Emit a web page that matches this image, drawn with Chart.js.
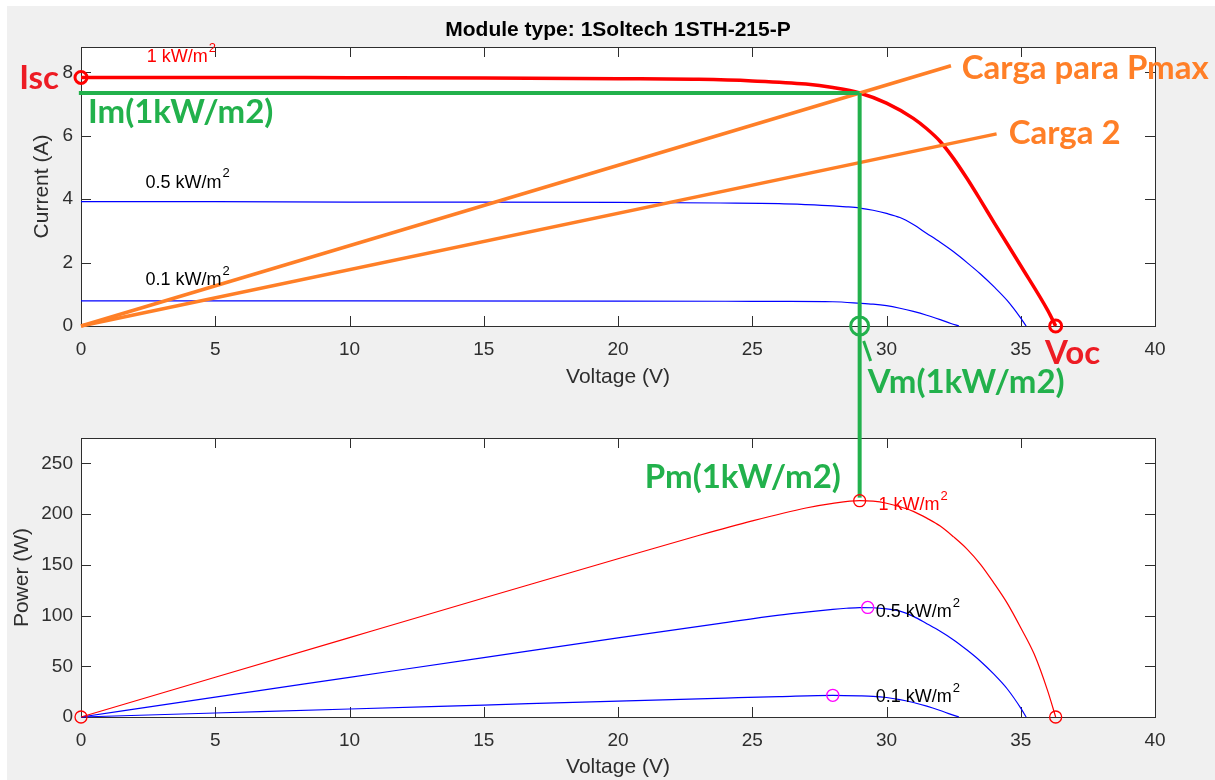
<!DOCTYPE html>
<html>
<head>
<meta charset="utf-8">
<title>Module type: 1Soltech 1STH-215-P</title>
<script src="https://cdn.jsdelivr.net/npm/chart.js@4.4.1/dist/chart.umd.min.js"></script>
<style>
  html, body { margin: 0; padding: 0; background: #fff; }
  #fig { position: absolute; left: 7px; top: 6px; width: 1208px; height: 774px; background: #f0f0f0; }
  canvas { position: absolute; left: 0; }
  #ivChart { top: 0; }
  #pvChart { top: 400px; }
</style>
</head>
<body>
<div id="fig"></div>
<canvas id="ivChart" width="1215" height="400"></canvas>
<canvas id="pvChart" width="1215" height="380"></canvas>
<script>
// tick labels
const voltTicks = [0, 5, 10, 15, 20, 25, 30, 35, 40];
const currentTicks = [0, 2, 4, 6, 8];
const powerTicks = [0, 50, 100, 150, 200, 250];

// I-V curves (V, A)
const ivVolt1 = [0, 5, 10, 15, 20, 23, 25, 27, 28, 29, 30, 31, 31.5, 32, 32.5, 33, 33.5, 34, 35, 36, 36.3];
const ivCurr1 = [7.84, 7.84, 7.83, 7.82, 7.8, 7.78, 7.73, 7.63, 7.52, 7.35, 7.03, 6.55, 6.22, 5.82, 5.28, 4.65, 3.97, 3.27, 1.9, 0.5, 0];
const ivVolt05 = [0, 5, 10, 15, 20, 23.8, 26, 27, 28, 28.5, 29, 29.5, 30, 30.5, 31, 31.5, 32, 32.5, 33, 33.5, 34, 34.5, 35, 35.2];
const ivCurr05 = [3.92, 3.92, 3.91, 3.91, 3.9, 3.88, 3.86, 3.83, 3.79, 3.76, 3.72, 3.65, 3.55, 3.42, 3.2, 2.92, 2.64, 2.34, 2.0, 1.64, 1.24, 0.8, 0.25, 0];
const ivVolt01 = [0, 10, 20, 24, 26, 28, 29, 29.5, 30, 30.5, 31, 31.5, 32, 32.4, 32.7];
const ivCurr01 = [0.79, 0.79, 0.785, 0.78, 0.775, 0.765, 0.72, 0.69, 0.64, 0.56, 0.46, 0.34, 0.2, 0.08, 0];

// P-V curves (V, W)
const pvVolt1 = [0, 5, 10, 15, 20, 23, 25, 27, 28, 29, 29.5, 30, 30.5, 31, 31.5, 32, 32.5, 33, 33.5, 34, 34.5, 35, 35.5, 36, 36.3];
const pvPow1 = [0, 39.2, 78.3, 117.3, 156, 178.9, 193.3, 206, 210.6, 213.2, 212.7, 210.7, 207.2, 202.7, 196, 188.2, 177.5, 165.5, 150.5, 132, 112, 88, 62, 26, 0];
const pvVolt05 = [0, 5, 10, 15, 20, 23.8, 26, 27, 28, 28.5, 29, 29.5, 30, 30.5, 31, 31.5, 32, 32.5, 33, 33.5, 34, 34.5, 35, 35.2];
const pvPow05 = [0, 19.6, 39.1, 58.6, 78, 92.3, 100.4, 103.4, 106.1, 107.2, 107.9, 107.7, 106.5, 104.3, 99.2, 92, 84.5, 76, 66, 55, 42.2, 27.6, 8.75, 0];
const pvVolt01 = [0, 5, 10, 15, 20, 24, 26, 28, 29, 29.5, 30, 30.5, 31, 31.5, 32, 32.4, 32.7];
const pvPow01 = [0, 3.95, 7.9, 11.8, 15.7, 18.7, 20.15, 21.4, 20.9, 20.4, 19.2, 17.1, 14.3, 10.7, 6.4, 2.6, 0];

// key points of the 1 kW/m2 curve
const isc = 7.84, voc = 36.3, vmp = 29, imp = 7.35, pmp = 213.2;
// resistive loads drawn from the origin
const loadPmaxV = [0, 32.4], loadPmaxI = [0, 8.21];
const load2V = [0, 34.1], load2I = [0, 6.06];
// maximum power markers of 0.5 and 0.1 kW/m2
const mpMarkV = [29.3, 28.0], mpMarkP = [108, 21.4];

const FONT = "'Liberation Sans', Arial, sans-serif";
const NOTE_FONT = "bold 33px Lato, sans-serif";
const INK = '#2e2e2e';
const RED = '#ed1c24', GREEN = '#22b14c', ORANGE = '#ff7f27';

const xy = (xs, ys) => xs.map((x, i) => ({x: x, y: ys[i]}));

// MATLAB-like box with inward ticks + text overlays
function makeAxesPlugin(title, texts, extra) {
  return {
    id: 'matlabAxes',
    beforeDraw(chart) {
      const {ctx, chartArea: a} = chart;
      ctx.save();
      ctx.fillStyle = '#fff';
      ctx.fillRect(a.left, a.top, a.right - a.left, a.bottom - a.top);
      ctx.restore();
    },
    beforeDatasetsDraw(chart) {
      const {ctx, chartArea: a, scales: {x, y}} = chart;
      ctx.save();
      ctx.strokeStyle = INK;
      ctx.lineWidth = 1;
      ctx.beginPath();
      x.ticks.forEach(t => {
        const px = Math.round(x.getPixelForValue(t.value)) + 0.5;
        ctx.moveTo(px, a.bottom); ctx.lineTo(px, a.bottom - 10);
        ctx.moveTo(px, a.top); ctx.lineTo(px, a.top + 10);
      });
      y.ticks.forEach(t => {
        const py = Math.round(y.getPixelForValue(t.value)) + 0.5;
        ctx.moveTo(a.left, py); ctx.lineTo(a.left + 10, py);
        ctx.moveTo(a.right, py); ctx.lineTo(a.right - 10, py);
      });
      ctx.stroke();
      ctx.strokeRect(Math.round(a.left) + 0.5, Math.round(a.top) + 0.5,
                     Math.round(a.right - a.left), Math.round(a.bottom - a.top));
      ctx.restore();
    },
    afterDatasetsDraw(chart) {
      const {ctx, chartArea: a, scales: {x, y}} = chart;
      ctx.save();
      if (title) {
        ctx.font = 'bold 21px ' + FONT;
        ctx.fillStyle = '#000';
        ctx.textAlign = 'center';
        ctx.textBaseline = 'middle';
        ctx.fillText(title, (a.left + a.right) / 2, 30);
      }
      ctx.textAlign = 'left';
      ctx.textBaseline = 'middle';
      texts.forEach(t => {
        const px = x.getPixelForValue(t.x), py = y.getPixelForValue(t.y);
        ctx.fillStyle = t.color;
        if (t.bold) {
          ctx.font = NOTE_FONT;
          ctx.fillText(t.text, px, py);
        } else {
          ctx.font = '18px ' + FONT;
          ctx.fillText(t.text, px, py);
          const w = ctx.measureText(t.text).width;
          ctx.font = '13px ' + FONT;
          ctx.fillText('2', px + w + 1, py - 9);
        }
      });
      if (extra) extra(ctx, x, y);
      ctx.restore();
    }
  };
}

function xScale(height, padTitle) {
  return {
    type: 'linear', min: 0, max: 40,
    afterBuildTicks: s => { s.ticks = voltTicks.map(v => ({value: v})); },
    afterFit: s => { s.height = height; },
    grid: {display: false, drawTicks: false},
    border: {display: false},
    ticks: {padding: 12, color: INK, font: {family: FONT, size: 19}, maxRotation: 0, autoSkip: false},
    title: {display: true, text: 'Voltage (V)', color: INK, font: {family: FONT, size: 21},
            padding: {top: 0, bottom: padTitle}}
  };
}

function yScale(max, ticks, label, padTitle) {
  return {
    type: 'linear', min: 0, max: max,
    afterBuildTicks: s => { s.ticks = ticks.map(v => ({value: v})); },
    afterFit: s => { s.width = 81; },
    grid: {display: false, drawTicks: false},
    border: {display: false},
    ticks: {padding: 8, color: INK, font: {family: FONT, size: 19}, autoSkip: false},
    title: {display: true, text: label, color: INK, font: {family: FONT, size: 21},
            padding: {top: padTitle, bottom: 0}}
  };
}

const baseOptions = (pad, xs, ys) => ({
  responsive: false,
  animation: false,
  layout: {padding: pad},
  plugins: {legend: {display: false}, tooltip: {enabled: false}},
  scales: {x: xs, y: ys}
});

const line = (data, color, width, order) => ({
  data: data, showLine: true, borderColor: color, borderWidth: width,
  pointRadius: 0, cubicInterpolationMode: 'monotone', order: order, clip: false
});
const marker = (data, color, radius, width, order) => ({
  data: data, showLine: false, pointRadius: radius, pointBorderColor: color,
  pointBackgroundColor: 'rgba(0,0,0,0)', pointBorderWidth: width, order: order, clip: false
});

// ---------- Current vs voltage ----------
const ivTexts = [
  {text: '1 kW/m', x: 2.45, y: 8.48, color: '#ff0000'},
  {text: '0.5 kW/m', x: 2.4, y: 4.52, color: '#000'},
  {text: '0.1 kW/m', x: 2.4, y: 1.44, color: '#000'},
  {text: 'Isc', x: -2.3, y: 7.82, color: RED, bold: true},
  {text: 'Im(1kW/m2)', x: 0.26, y: 6.75, color: GREEN, bold: true},
  {text: 'Carga para Pmax', x: 32.8, y: 8.14, color: ORANGE, bold: true},
  {text: 'Carga 2', x: 34.55, y: 6.09, color: ORANGE, bold: true},
  {text: 'Voc', x: 35.9, y: -0.85, color: RED, bold: true},
  {text: 'Vm(1kW/m2)', x: 29.3, y: -1.78, color: GREEN, bold: true}
];

new Chart(document.getElementById('ivChart'), {
  type: 'scatter',
  data: {
    datasets: [
      line(xy(ivVolt05, ivCurr05), '#0000ff', 1.2, 9),
      line(xy(ivVolt01, ivCurr01), '#0000ff', 1.2, 9),
      line(xy(ivVolt1, ivCurr1), '#ff0000', 3.5, 8),
      line(xy(loadPmaxV, loadPmaxI), ORANGE, 3.5, 7),
      line(xy(load2V, load2I), ORANGE, 3.5, 7),
      line(xy([-0.08, vmp], [imp, imp]), GREEN, 4, 6),
      line(xy([vmp, vmp], [imp, -3]), GREEN, 4, 6),
      marker(xy([0, voc], [isc, 0]), '#ff0000', 6, 3, 5),
      marker(xy([vmp], [0]), GREEN, 9, 3, 5)
    ]
  },
  options: baseOptions({top: 47, right: 60, left: 0, bottom: 0},
                       xScale(74, 10), yScale(8.8, currentTicks, 'Current (A)', 30)),
  plugins: [makeAxesPlugin('Module type: 1Soltech 1STH-215-P', ivTexts, (ctx, x, y) => {
    // small tick next to the Vm marker
    const px = x.getPixelForValue(vmp), py = y.getPixelForValue(0);
    ctx.strokeStyle = GREEN;
    ctx.lineWidth = 3;
    ctx.beginPath();
    ctx.moveTo(px + 4, py + 15);
    ctx.lineTo(px + 11, py + 35);
    ctx.stroke();
  })]
});

// ---------- Power vs voltage ----------
const pvTexts = [
  {text: '1 kW/m', x: 29.7, y: 208.7, color: '#ff0000'},
  {text: '0.5 kW/m', x: 29.6, y: 103, color: '#000'},
  {text: '0.1 kW/m', x: 29.6, y: 19.7, color: '#000'},
  {text: 'Pm(1kW/m2)', x: 21.0, y: 236, color: GREEN, bold: true}
];

new Chart(document.getElementById('pvChart'), {
  type: 'scatter',
  data: {
    datasets: [
      line(xy(pvVolt05, pvPow05), '#0000ff', 1.2, 9),
      line(xy(pvVolt01, pvPow01), '#0000ff', 1.2, 9),
      line(xy(pvVolt1, pvPow1), '#ff0000', 1.2, 8),
      line(xy([vmp, vmp], [pmp + 3, 330]), GREEN, 4, 6),
      marker(xy([0, vmp, voc], [0, pmp, 0]), '#ff0000', 6, 1.3, 5),
      marker(xy(mpMarkV, mpMarkP), '#ff00ff', 6, 1.3, 5)
    ]
  },
  options: baseOptions({top: 38, right: 60, left: 0, bottom: 0},
                       xScale(63, 0), yScale(275, powerTicks, 'Power (W)', 10)),
  plugins: [makeAxesPlugin(null, pvTexts)]
});
</script>
</body>
</html>
